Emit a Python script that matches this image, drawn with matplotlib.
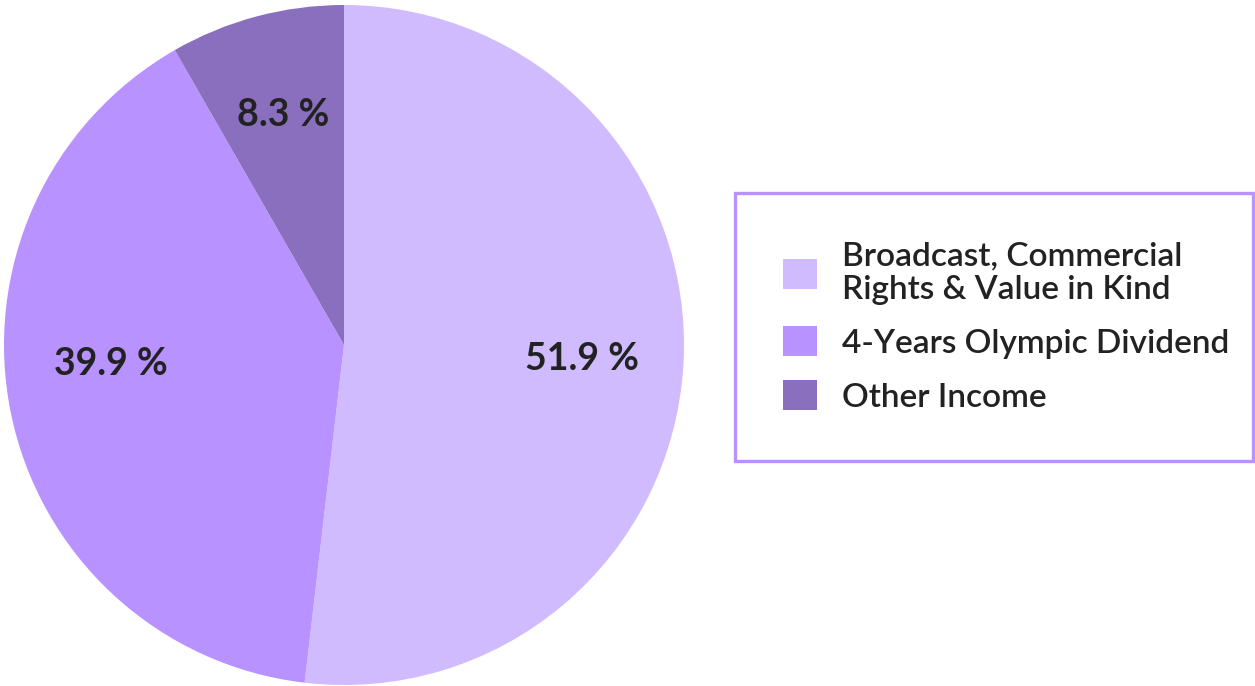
import matplotlib
matplotlib.use("Agg")
import matplotlib.pyplot as plt

labels = ["Broadcast, Commercial\nRights & Value in Kind",
          "4-Years Olympic Dividend",
          "Other Income"]
values = [51.9, 39.9, 8.3]
colors = ["#D0BBFF", "#B892FF", "#8A6FBF"]

plt.rcParams['font.family'] = ['Lato', 'DejaVu Sans']

fig = plt.figure(figsize=(12.55, 6.86), dpi=100)
ax = fig.add_axes([4 / 1255, 1 / 686, 680 / 1255, 680 / 686])

wedges, texts, autotexts = ax.pie(
    values, colors=colors, startangle=90, counterclock=False,
    autopct=lambda p: "", pctdistance=0.7,
    wedgeprops=dict(linewidth=0))
for t, v in zip(autotexts, values):
    t.set_text(f"{v} %")
    t.set_fontsize(27)
    t.set_fontweight("bold")
    t.set_color("#222222")
# the left label sits a bit higher in the original
x, y = autotexts[1].get_position()
autotexts[1].set_position((x, y + 0.085))
ax.set_xlim(-1, 1)
ax.set_ylim(-1, 1)
ax.set_aspect("equal")

leg = fig.legend(wedges, labels, loc="center", mode="expand",
                 bbox_to_anchor=(735 / 1255, 225 / 686, 518 / 1255, 268 / 686),
                 prop={"size": 24, "weight": "semibold"},
                 frameon=True, fancybox=False, framealpha=1,
                 handlelength=1.0, handleheight=1.0, handletextpad=0.75,
                 labelspacing=0.65, borderpad=1.45, borderaxespad=0)
leg.get_frame().set_edgecolor("#B892FF")
leg.get_frame().set_linewidth(2.4)
for t in leg.get_texts():
    t.set_color("#222222")
    t.set_linespacing(1.15)

fig.savefig("out.png", dpi=100)
